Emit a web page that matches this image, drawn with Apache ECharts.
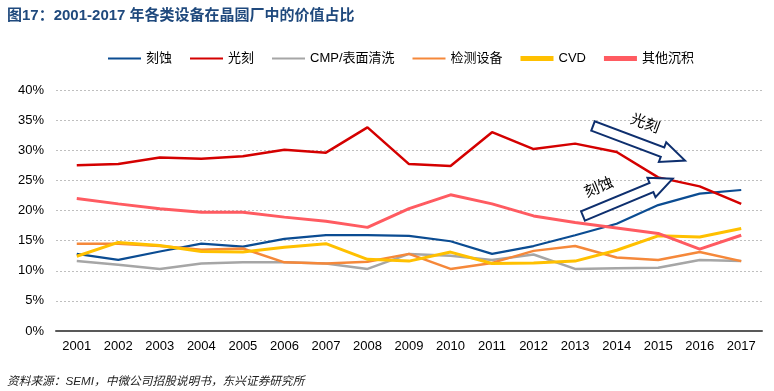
<!DOCTYPE html>
<html><head><meta charset="utf-8">
<script src="https://cdn.jsdelivr.net/npm/echarts@6/dist/echarts.min.js"></script>
<style>html,body{margin:0;padding:0;background:#fff}#c{width:774px;height:391px}</style>
</head><body><div id="c"></div>
<script>
var years = ['2001','2002','2003','2004','2005','2006','2007','2008','2009','2010','2011','2012','2013','2014','2015','2016','2017'];
var etch   = [12.8,11.8,13.2,14.5,14.0,15.3,15.9,15.9,15.8,14.9,12.8,14.1,15.9,17.8,20.9,22.8,23.4];
var litho  = [27.5,27.7,28.8,28.6,29.0,30.1,29.6,33.8,27.7,27.4,33.0,30.2,31.1,29.7,25.5,24.0,21.1];
var cmp    = [11.6,11.0,10.3,11.2,11.4,11.4,11.2,10.3,12.8,12.5,11.8,12.7,10.3,10.4,10.5,11.8,11.6];
var inspect= [14.5,14.5,14.1,13.5,13.7,11.4,11.2,11.5,12.8,10.3,11.3,13.3,14.1,12.2,11.8,13.1,11.6];
var cvd    = [12.4,14.7,14.2,13.2,13.1,13.9,14.5,11.9,11.6,13.1,11.2,11.3,11.6,13.4,15.8,15.6,17.0];
var otherDep=[22.0,21.1,20.3,19.7,19.7,18.9,18.2,17.2,20.3,22.6,21.1,19.1,18.0,17.1,16.2,13.6,15.9];
var seriesNames = ['刻蚀','光刻','CMP/表面清洗','检测设备','CVD','其他沉积'];
var yTicks = [0,5,10,15,20,25,30,35,40];

var FONT = "'Liberation Sans','Noto Sans CJK SC',sans-serif";
var colors = ['#0B4C92','#D40000','#A6A6A6','#F5883A','#FFC000','#FF5B61'];
var widths = [2.2,2.5,2.5,2.5,3,3];
var legendThick = [2,2,2,2,5,5];
var dataArr = [etch, litho, cmp, inspect, cvd, otherDep];

function arrow(tx,ty,px,py,w,h,L){
  var dx=px-tx, dy=py-ty, len=Math.sqrt(dx*dx+dy*dy);
  var ux=dx/len, uy=dy/len, nx=-uy, ny=ux;
  var bx=px-ux*L, by=py-uy*L;
  return [
    [tx+nx*w, ty+ny*w],[bx+nx*w, by+ny*w],[bx+nx*h, by+ny*h],[px,py],
    [bx-nx*h, by-ny*h],[bx-nx*w, by-ny*w],[tx-nx*w, ty-ny*w]
  ];
}

var chart = echarts.init(document.getElementById('c'));
var series = seriesNames.map(function(n,i){
  return {name:n,type:'line',data:dataArr[i],symbol:'none',
    lineStyle:{color:colors[i],width:widths[i]},itemStyle:{color:colors[i]}};
});
chart.setOption({
  animation:false,
  color:colors,
  textStyle:{fontFamily:FONT},
  legend:{top:47,left:103,itemWidth:33,itemHeight:6,itemGap:18,
    textStyle:{fontSize:13,color:'#000',fontFamily:FONT},
    data:seriesNames.map(function(n,i){
      var t=legendThick[i];
      return {name:n,icon:'path://M0,0L33,0L33,'+t+'L0,'+t+'Z',itemStyle:{color:colors[i]}};})},
  grid:{left:56,right:12,top:90,bottom:60},
  xAxis:{type:'category',data:years,boundaryGap:true,
    axisLine:{lineStyle:{color:'#595959',width:2}},axisTick:{show:false},
    axisLabel:{color:'#000',fontSize:13,margin:9,fontFamily:FONT}},
  yAxis:{type:'value',min:0,max:40,interval:5,
    axisLabel:{color:'#000',fontSize:13,fontFamily:FONT,margin:12,formatter:function(v){return v+'%';}},
    splitLine:{lineStyle:{color:'#BFBFBF',type:[2,2],width:1}},
    axisLine:{show:false},axisTick:{show:false}},
  series:series,
  graphic:[
    {type:'text',left:7,top:8,style:{text:'图17：2001-2017 年各类设备在晶圆厂中的价值占比',fill:'#1F497D',font:'bold 15px '+FONT}},
    {type:'text',left:7,top:376,style:{text:'资料来源：SEMI，中微公司招股说明书，东兴证券研究所',fill:'#222',font:'italic 11.7px '+FONT}},
    {type:'polygon',shape:{points:arrow(593,126,685,160.5,5,10.5,24)},style:{fill:'#fff',stroke:'#0E2F6E',lineWidth:2},z:10},
    {type:'polygon',shape:{points:arrow(583,216,672.7,178.7,5,10.5,23)},style:{fill:'#fff',stroke:'#0E2F6E',lineWidth:2},z:10},
    {type:'text',x:645,y:124,rotation:-20*Math.PI/180,style:{text:'光刻',fill:'#000',font:'15px '+FONT,align:'center',verticalAlign:'middle'},z:11},
    {type:'text',x:599,y:188,rotation:22*Math.PI/180,style:{text:'刻蚀',fill:'#000',font:'15px '+FONT,align:'center',verticalAlign:'middle'},z:11}
  ]
});
</script></body></html>
